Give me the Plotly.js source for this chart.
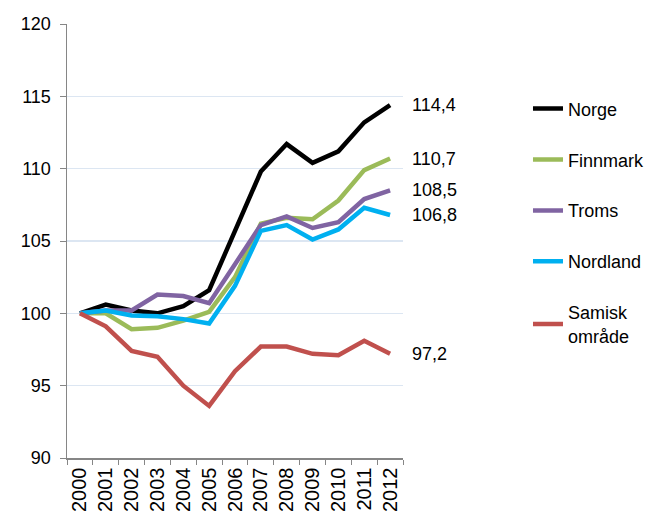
<!DOCTYPE html>
<html>
<head>
<meta charset="utf-8">
<script src="https://cdn.plot.ly/plotly-3.0.1.min.js"></script>
<style>
html,body{margin:0;padding:0;background:#fff;}
#chart{width:671px;height:518px;}
</style>
</head>
<body>
<div id="chart"></div>
<script>
var years = ['2000','2001','2002','2003','2004','2005','2006','2007','2008','2009','2010','2011','2012'];
var seriesNames = ['Norge','Finnmark','Troms','Nordland','Samisk<br>område'];
var norge    = [100, 100.6, 100.2, 100.0, 100.5, 101.6, 105.7, 109.8, 111.7, 110.4, 111.2, 113.2, 114.4];
var finnmark = [100, 100.0, 98.9, 99.0, 99.5, 100.1, 102.5, 106.2, 106.6, 106.5, 107.8, 109.9, 110.7];
var troms    = [100, 100.2, 100.2, 101.3, 101.2, 100.7, 103.4, 106.1, 106.7, 105.9, 106.3, 107.9, 108.5];
var nordland = [100, 100.2, 99.85, 99.8, 99.6, 99.3, 101.9, 105.7, 106.1, 105.1, 105.8, 107.3, 106.8];
var samisk   = [100, 99.1, 97.4, 97.0, 95.0, 93.6, 96.0, 97.7, 97.7, 97.2, 97.1, 98.1, 97.2];
var colors   = ['#000000','#9bbb59','#8064a2','#00b0f0','#c0504d'];
var yTicks   = [90, 95, 100, 105, 110, 115, 120];

var allSeries = [norge, finnmark, troms, nordland, samisk];
var FONT = 'Liberation Sans, Arial, sans-serif';

var traces = allSeries.map(function(vals, i){
  return {
    x: years, y: vals, type: 'scatter', mode: 'lines',
    name: seriesNames[i], legendgroup: 'g' + i,
    line: {color: colors[i], width: 4.5},
    hoverinfo: 'skip'
  };
});

var annotations = allSeries.map(function(vals){
  var last = vals[vals.length - 1];
  return {
    x: years.length - 1, y: last, xref: 'x', yref: 'y',
    text: last.toFixed(1).replace('.', ','),
    showarrow: false, xanchor: 'left', yanchor: 'middle', xshift: 20,
    font: {family: FONT, size: 18, color: '#000'}
  };
});

var layout = {
  width: 671, height: 518,
  margin: {l: 67, r: 268, t: 24, b: 60},
  paper_bgcolor: '#fff', plot_bgcolor: '#fff',
  showlegend: true,
  legend: {
    x: 1.372, xanchor: 'left', y: 0.847, yanchor: 'top',
    font: {family: FONT, size: 18, color: '#000'},
    tracegroupgap: 24.5, traceorder: 'grouped',
    bgcolor: 'rgba(0,0,0,0)'
  },
  xaxis: {
    type: 'category', range: [-0.5, 12.5],
    tickson: 'boundaries', ticks: 'outside', ticklen: 5, tickcolor: '#868686',
    tickangle: -90, tickfont: {family: FONT, size: 20, color: '#000'},
    showline: true, linecolor: '#868686', linewidth: 1.5,
    showgrid: false, zeroline: false, fixedrange: true
  },
  yaxis: {
    range: [90, 120], tickvals: yTicks,
    ticks: 'outside', ticklen: 6, tickcolor: '#868686',
    tickfont: {family: FONT, size: 18, color: '#000'},
    showline: true, linecolor: '#868686', linewidth: 1.5,
    showgrid: true, gridcolor: '#dce6f2', gridwidth: 1.5,
    zeroline: false, fixedrange: true, ticklabelstandoff: 5
  },
  annotations: annotations
};

Plotly.newPlot('chart', traces, layout, {displayModeBar: false, staticPlot: true});
</script>
</body>
</html>
